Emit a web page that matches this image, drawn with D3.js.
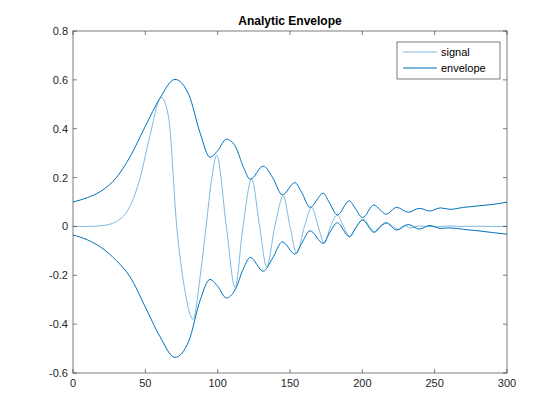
<!DOCTYPE html><html><head><meta charset="utf-8"><script src="https://cdn.jsdelivr.net/npm/d3@7"></script>
<style>body{margin:0;background:#fff}text{font-family:"Liberation Sans",Arial,sans-serif}</style></head><body>
<svg id="c" width="560" height="420"></svg>
<script>
const xTicks=[0,50,100,150,200,250,300];
const yTicks=[-0.6,-0.4,-0.2,0,0.2,0.4,0.6,0.8];
const yTickLabels=["-0.6","-0.4","-0.2","0","0.2","0.4","0.6","0.8"];
const signalT=[0,10,20,30,40,46,53,61,66,71.7,77,83,88,92,96,99.3,106,112,117.5,123.5,129,133.9,139.5,145.4,150,154.6,160,165,169.5,173.7,178,182.7,187,191.5,196,200.7,205,208.8,213,217,221,225,229,233,240,250,260,270,280,290,300];
const signalV=[0,0,0.003,0.02,0.09,0.19,0.367,0.528,0.45,0,-0.25,-0.38,-0.2,0,0.2,0.292,0,-0.25,0,0.193,0,-0.165,0,0.124,0,-0.11,0,0.078,0,-0.069,0,0.047,0,-0.042,0,0.029,0,-0.024,0,0.014,0,-0.012,0.004,-0.006,0.002,-0.002,0.002,0,0.001,0,0];
const upperT=[0,10,18.7,30,39.4,50,60,70.5,80,88,94.7,100,106,112,118,122.5,131.5,138,144.7,153.4,158,163.8,173,177,182.7,191,195,200.2,208,212,216.4,223.7,231.8,239.4,246.8,254,260.6,270,280,290,300];
const upperV=[0.1,0.118,0.142,0.2,0.285,0.41,0.524,0.602,0.54,0.38,0.283,0.31,0.357,0.33,0.24,0.193,0.247,0.2,0.129,0.179,0.14,0.078,0.136,0.1,0.047,0.105,0.075,0.036,0.088,0.07,0.05,0.078,0.058,0.074,0.063,0.076,0.07,0.078,0.084,0.09,0.099];
const lowerT=[0,10,18.7,30,39.4,50,60,70.5,80,88,94.7,100,106,112,118,122.5,131.5,138,144.7,153.4,158,163.8,173,177,182.7,191,195,200.2,208,212,216.4,223.7,231.8,239.4,246.8,254,260.6,270,280,290,300];
const lowerV=[-0.035,-0.055,-0.083,-0.14,-0.206,-0.33,-0.45,-0.536,-0.47,-0.3,-0.217,-0.245,-0.293,-0.26,-0.17,-0.127,-0.183,-0.13,-0.063,-0.113,-0.07,-0.018,-0.069,-0.03,0.015,-0.042,-0.01,0.026,-0.024,-0.002,0.015,-0.015,0.008,-0.011,0.004,-0.008,-0.006,-0.012,-0.018,-0.025,-0.032];
const svg=d3.select("#c");
const L=73,R=507,T=31,B=373;
const x=d3.scaleLinear().domain([0,300]).range([L,R]);
const y=d3.scaleLinear().domain([-0.6,0.8]).range([B,T]);
svg.append("rect").attr("width",560).attr("height",420).attr("fill","#fff");
const line=(ts,vs,c)=>svg.append("path").attr("fill","none").attr("stroke",c).attr("stroke-width",1)
 .attr("d",d3.line().x(i=>x(ts[i])).y(i=>y(vs[i])).curve(d3.curveMonotoneX)(d3.range(ts.length)));
line(signalT,signalV,"#7fb8df");
line(upperT,upperV,"#0072bd");
line(lowerT,lowerV,"#0072bd");
const ax=svg.append("g").attr("stroke","#262626").attr("stroke-width",0.6);
ax.append("rect").attr("x",L).attr("y",T).attr("width",R-L).attr("height",B-T).attr("fill","none");
xTicks.forEach(t=>{ax.append("line").attr("x1",x(t)).attr("x2",x(t)).attr("y1",B).attr("y2",B-4);ax.append("line").attr("x1",x(t)).attr("x2",x(t)).attr("y1",T).attr("y2",T+4);
 svg.append("text").attr("x",x(t)).attr("y",B+14).attr("text-anchor","middle").attr("font-size",11).attr("fill","#262626").text(t);});
yTicks.forEach((t,i)=>{ax.append("line").attr("x1",L).attr("x2",L+4).attr("y1",y(t)).attr("y2",y(t));ax.append("line").attr("x1",R).attr("x2",R-4).attr("y1",y(t)).attr("y2",y(t));
 svg.append("text").attr("x",L-5).attr("y",y(t)+4).attr("text-anchor","end").attr("font-size",11).attr("fill","#262626").text(yTickLabels[i]);});
svg.append("text").attr("x",(L+R)/2).attr("y",25).attr("text-anchor","middle").attr("font-size",12).attr("font-weight","bold").attr("fill","#000").text("Analytic Envelope");
const lg=svg.append("g");
lg.append("rect").attr("x",397).attr("y",42).attr("width",103).attr("height",37).attr("fill","#fff").attr("stroke","#262626").attr("stroke-width",0.6);
[["signal","#7fb8df"],["envelope","#0072bd"]].forEach((d,i)=>{const yy=52+i*16;
 lg.append("line").attr("x1",403).attr("x2",437).attr("y1",yy).attr("y2",yy).attr("stroke",d[1]);
 lg.append("text").attr("x",441).attr("y",yy+4).attr("font-size",11).attr("fill","#000").text(d[0]);});
</script></body></html>
